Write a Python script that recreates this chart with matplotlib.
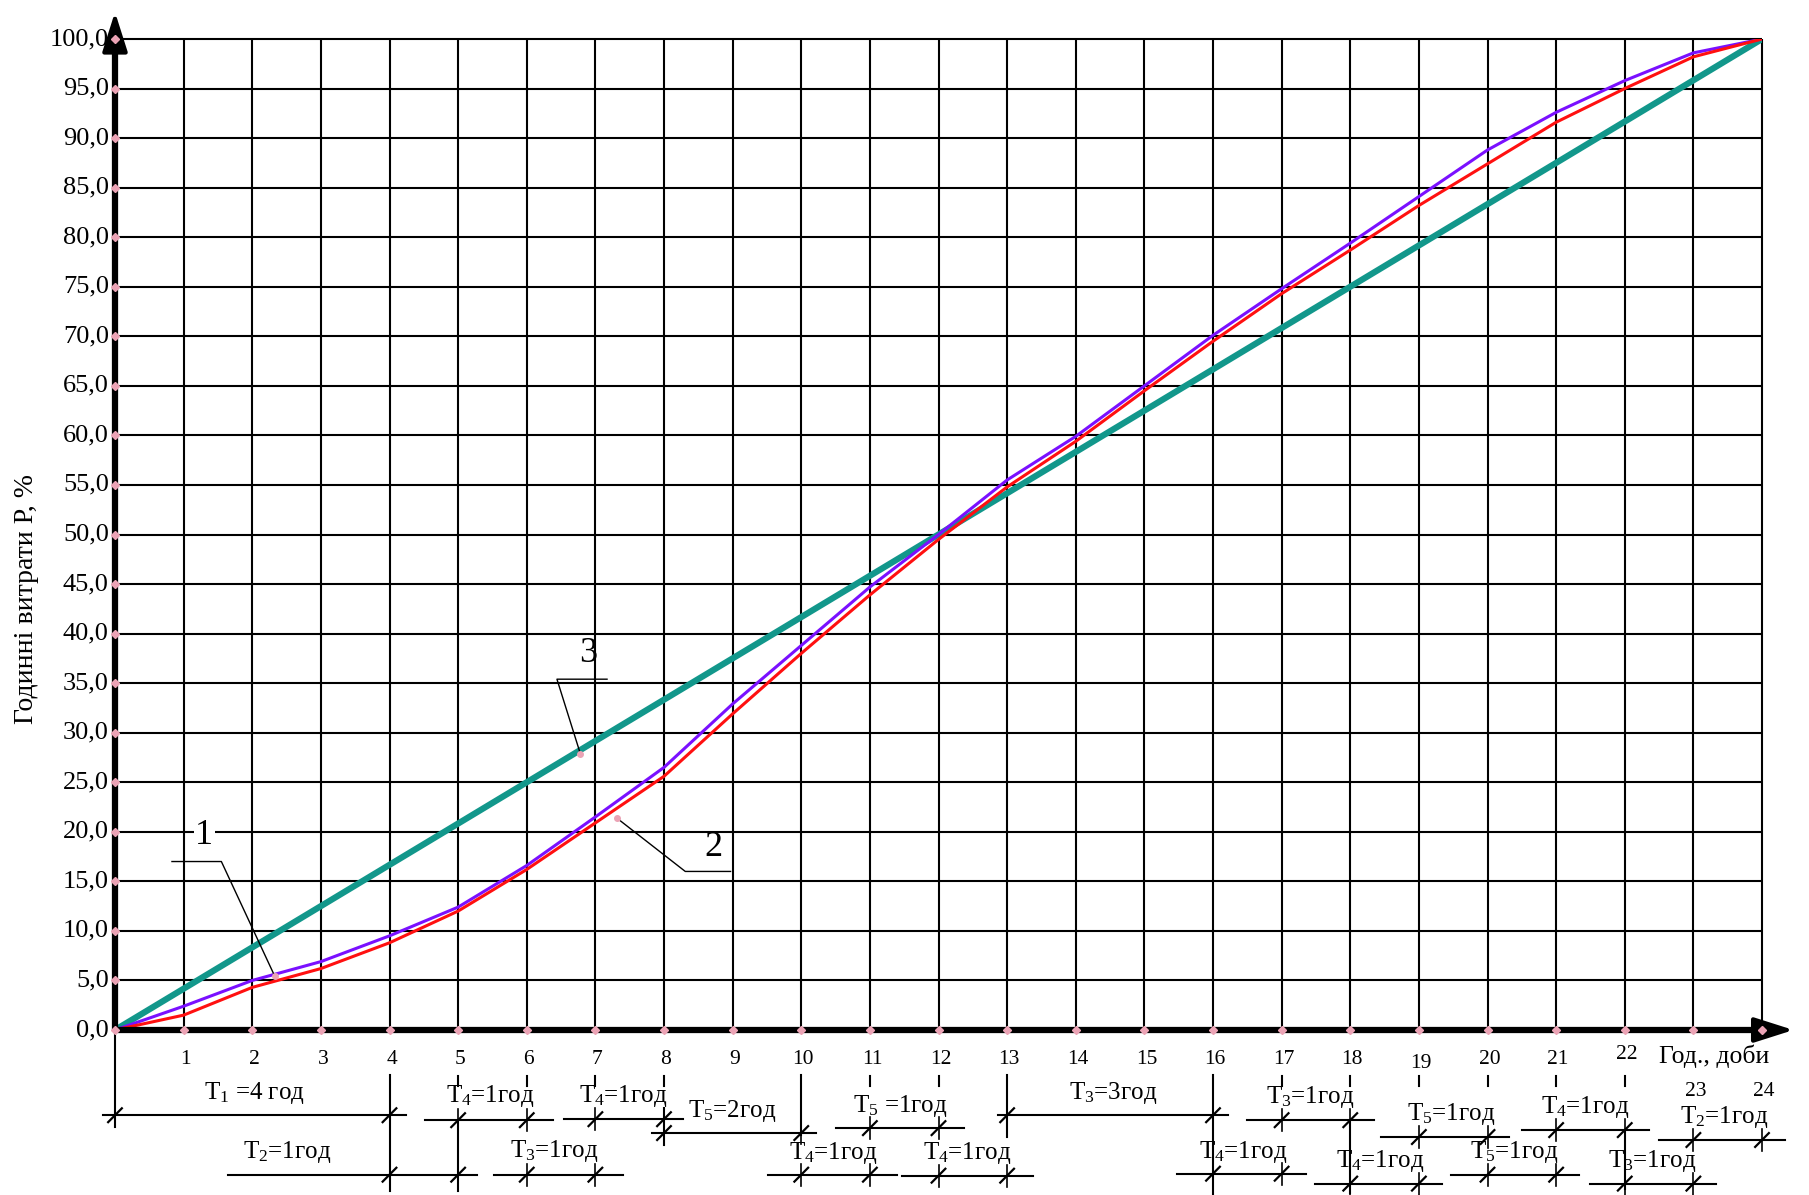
#
# Integral curves of hourly consumption with the period scheme under the time axis
#

import matplotlib
matplotlib.use("Agg")
from matplotlib import pyplot as plt

#
# Data
#

# Hours of the day
hours = list(range(0, 25))

# Curve 1 (violet), cumulative share, %
curve_1 = [0.0, 2.4, 5.0, 6.9, 9.5, 12.4, 16.6, 21.5, 26.5, 32.9, 38.8, 44.7, 50.0,
           55.5, 59.9, 65.0, 70.1, 74.8, 79.4, 84.1, 88.8, 92.6, 95.8, 98.6, 100.0]

# Curve 2 (red), cumulative share, %
curve_2 = [0.0, 1.5, 4.3, 6.2, 8.8, 12.0, 16.2, 20.9, 25.6, 31.9, 38.0, 43.9, 49.5,
           54.8, 59.4, 64.5, 69.5, 74.3, 78.7, 83.2, 87.4, 91.6, 95.0, 98.2, 100.0]

# Curve 3 (uniform consumption), a straight line
curve_3_hours = [0, 24]
curve_3 = [0.0, 100.0]

# Axis ticks and labels
y_ticks = list(range(0, 101, 5))
y_tick_labels = [f"{v:.1f}".replace(".", ",") for v in y_ticks]
x_ticks = list(range(1, 25))
x_tick_labels = [str(h) for h in x_ticks]

# Periods of the day shown under the axis
period_labels = ["T$_1$ =4 год", "T$_2$=1год", "T$_4$=1год", "T$_3$=1год", "T$_4$=1год",
                 "T$_5$=2год", "T$_4$=1год", "T$_5$ =1год", "T$_4$=1год", "T$_3$=3год",
                 "T$_4$=1год", "T$_3$=1год", "T$_4$=1год", "T$_5$=1год", "T$_5$=1год",
                 "T$_4$=1год", "T$_3$=1год", "T$_2$=1год"]
period_start = [0, 4, 5, 6, 7, 8, 10, 11, 12, 13, 16, 17, 18, 19, 20, 21, 22, 23]
period_end = [4, 5, 6, 7, 8, 10, 11, 12, 13, 16, 17, 18, 19, 20, 21, 22, 23, 24]

#
# Layout of the period scheme (text x, text y, line y, line from, line to)
#

period_layout = [
    (2.03, -6.4, -8.6, -0.17, 4.24),
    (2.51, -12.3, -14.6, 1.64, 5.27),
    (5.47, -6.7, -9.1, 4.52, 6.38),
    (6.40, -12.2, -14.6, 5.52, 7.40),
    (7.40, -6.7, -9.0, 6.55, 8.27),
    (9.00, -8.2, -10.4, 7.82, 10.22),
    (10.47, -12.4, -14.6, 9.52, 11.39),
    (11.45, -7.7, -9.9, 10.50, 12.37),
    (12.42, -12.4, -14.7, 11.47, 13.37),
    (14.55, -6.4, -8.6, 12.87, 16.22),
    (16.44, -12.3, -14.5, 15.48, 17.35),
    (17.42, -6.8, -9.1, 16.50, 18.34),
    (18.43, -13.2, -15.5, 17.48, 19.34),
    (19.47, -8.5, -10.8, 18.45, 20.32),
    (20.39, -12.3, -14.6, 19.47, 21.34),
    (21.43, -7.8, -10.1, 20.51, 22.35),
    (22.40, -13.2, -15.5, 21.49, 23.33),
    (23.45, -8.8, -11.1, 22.50, 24.34),
]

# Long extension lines (hour, from, to) and short stubs under the tick labels
extension_lines = [(0, 0, -9.8), (4, -4.5, -16.2), (5, -9.1, -16.2), (8, -7.9, -11.6),
                   (10, -4.5, -10.6), (13, -4.5, -10.8), (16, -4.5, -16.6),
                   (18, -9.1, -16.4), (22, -10.1, -16.0)]
stub_hours = [5, 6, 7, 8, 11, 12, 17, 18, 19, 20, 21, 22]

#
# Fonts
#

plt.rcParams['font.family'] = ['Liberation Serif', 'DejaVu Serif']
plt.rcParams['mathtext.fontset'] = 'custom'
plt.rcParams['mathtext.rm'] = 'Liberation Serif'
plt.rcParams['mathtext.it'] = 'Liberation Serif:italic'

#
# Figure and axes
#

fig = plt.figure(figsize=(18.09, 11.95), dpi=100)
ax = fig.add_axes([115 / 1809, 1 - 1030 / 1195, 1647 / 1809, 991 / 1195])
ax.set_xlim(0, 24)
ax.set_ylim(0, 100)
ax.axis("off")

# Grid
ax.vlines(hours, 0, 100, color="black", lw=1.5, zorder=1, clip_on=False)
ax.hlines(y_ticks, 0, 24, color="black", lw=1.5, zorder=1, clip_on=False)

# Axes with arrows
ax.plot([0, 24.2], [0, 0], color="black", lw=4.5, zorder=5, clip_on=False, solid_capstyle="butt")
ax.plot([0, 0], [0, 101], color="black", lw=4.5, zorder=5, clip_on=False, solid_capstyle="butt")
ax.annotate("", xy=(24.5, 0), xytext=(24.0, 0), annotation_clip=False, zorder=6,
            arrowprops=dict(arrowstyle="-|>,head_length=1.1,head_width=0.35",
                            color="black", lw=3, mutation_scale=22))
ax.annotate("", xy=(0, 103.0), xytext=(0, 99.0), annotation_clip=False, zorder=6,
            arrowprops=dict(arrowstyle="-|>,head_length=1.1,head_width=0.35",
                            color="black", lw=3, mutation_scale=22))

# Small pink marks on the axes
ax.plot(x_ticks, [0] * len(x_ticks), ls="none", marker="D", ms=4, color="#eba3b5",
        zorder=7, clip_on=False)
ax.plot([0] * len(y_ticks), y_ticks, ls="none", marker="D", ms=4, color="#eba3b5",
        zorder=7, clip_on=False)

# Curves
ax.plot(curve_3_hours, curve_3, color="#12978b", lw=4.5, zorder=3, solid_capstyle="round")
ax.plot(hours, curve_1, color="#7a10ff", lw=2.2, zorder=4)
ax.plot(hours, curve_2, color="#ff1010", lw=2.2, zorder=4)

# Tick labels
for v, lab in zip(y_ticks, y_tick_labels):
    ax.text(-0.09, v, lab, ha="right", va="center", fontsize=19, clip_on=False)

label_y = {19: -3.4, 22: -2.5, 23: -6.2, 24: -6.2}
for h, lab in zip(x_ticks, x_tick_labels):
    ax.text(h + 0.03, label_y.get(h, -3.0), lab, ha="center", va="center", fontsize=15.5)

ax.text(22.5, -2.6, "Год., доби", ha="left", va="center", fontsize=18.5)

fig.text(27 / 1809, 1 - 599 / 1195, "Годинні витрати Р, %", rotation=90,
         ha="center", va="center", fontsize=20)

#
# Period scheme under the axis
#


def slash(x, y):
    # Architectural tick: short vertical and a slash
    ax.plot([x, x], [y - 1.1, y + 1.1], color="black", lw=1.2, clip_on=False)
    ax.plot([x - 0.1, x + 0.1], [y - 0.7, y + 0.7], color="black", lw=1.6, clip_on=False)


for lab, start, end, lay in zip(period_labels, period_start, period_end, period_layout):
    tx, ty, ly, left, right = lay
    ax.text(tx, ty, lab, ha="center", va="center", fontsize=18, clip_on=False)
    ax.plot([left, right], [ly, ly], color="black", lw=1.5, clip_on=False)
    slash(start, ly)
    slash(end, ly)

for h, y0, y1 in extension_lines:
    ax.plot([h, h], [y0, y1], color="black", lw=1.5, clip_on=False)

for h in stub_hours:
    ax.plot([h, h], [-4.6, -5.7], color="black", lw=1.5, clip_on=False)

#
# Leaders with curve numbers
#

ax.text(1.30, 19.6, "1", ha="center", va="center", fontsize=26, zorder=6,
        bbox=dict(facecolor="white", edgecolor="none", pad=1))
ax.plot([0.83, 1.55, 2.33], [17.0, 17.0, 5.4], color="black", lw=1.0, zorder=6)

ax.text(8.72, 18.4, "2", ha="center", va="center", fontsize=26, zorder=6)
ax.plot([7.31, 8.31, 8.97], [21.4, 16.0, 16.0], color="black", lw=1.0, zorder=6)

ax.text(6.90, 38.0, "3", ha="center", va="center", fontsize=26, zorder=6)
ax.plot([7.17, 6.44, 6.78], [35.4, 35.4, 27.9], color="black", lw=1.0, zorder=6)

ax.plot([2.33, 7.31, 6.78], [5.4, 21.4, 27.9], ls="none", marker="o", ms=4,
        color="#eba3b5", zorder=7)

plt.savefig("out.png", dpi=100)
